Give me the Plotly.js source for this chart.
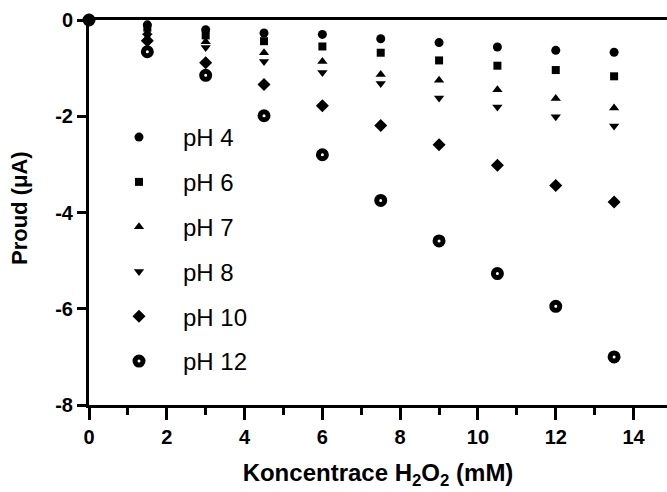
<!DOCTYPE html>
<html>
<head>
<meta charset="utf-8">
<script src="https://cdn.plot.ly/plotly-3.0.1.min.js"></script>
<style>html,body{margin:0;padding:0;background:#fff;}#chart{width:667px;height:492px;}</style>
</head>
<body>
<div id="chart"></div>
<script>
var concentration = [0, 1.5, 3, 4.5, 6, 7.5, 9, 10.5, 12, 13.5];
var pH4  = [0, -0.10, -0.20, -0.27, -0.30, -0.39, -0.47, -0.56, -0.63, -0.67];
var pH6  = [0, -0.16, -0.32, -0.44, -0.55, -0.68, -0.84, -0.95, -1.04, -1.17];
var pH7  = [0, -0.26, -0.45, -0.68, -0.86, -1.13, -1.25, -1.45, -1.63, -1.83];
var pH8  = [0, -0.33, -0.57, -0.86, -1.09, -1.32, -1.62, -1.81, -2.01, -2.20];
var pH10 = [0, -0.43, -0.89, -1.34, -1.78, -2.19, -2.59, -3.02, -3.44, -3.78];
var pH12 = [0, -0.66, -1.15, -1.99, -2.80, -3.75, -4.59, -5.27, -5.95, -7.00];
var seriesNames = ["pH 4", "pH 6", "pH 7", "pH 8", "pH 10", "pH 12"];
var xTicks = [0, 2, 4, 6, 8, 10, 12, 14];
var yTicks = [-8, -6, -4, -2, 0];
var xTitle = "Koncentrace H<sub>2</sub>O<sub>2</sub> (mM)";
var yTitle = "Proud (μA)";

var seriesData = [pH4, pH6, pH7, pH8, pH10, pH12];
var markers = [
  {symbol: "circle", size: 9, color: "#000"},
  {symbol: "square", size: 8, color: "#000"},
  {symbol: "triangle-up", size: 9, color: "#000"},
  {symbol: "triangle-down", size: 9, color: "#000"},
  {symbol: "diamond", size: 10, color: "#000"},
  {symbol: "circle-open", size: 8, color: "#000", line: {color: "#000", width: 5}}
];

var traces = seriesData.map(function (ys, i) {
  return {
    x: concentration, y: ys, name: seriesNames[i],
    type: "scatter", mode: "markers",
    marker: markers[i], cliponaxis: false,
    legendgroup: "g" + i
  };
});

var W = 667, H = 492;
var mL = 89, mR = 0, mT = 20, mB = 87;
var plotW = W - mL - mR, plotH = H - mT - mB;
var fontFam = "Liberation Sans, Arial, sans-serif";
var layout = {
  width: W, height: H,
  margin: {l: mL, r: mR, t: mT, b: mB, autoexpand: false},
  paper_bgcolor: "#fff", plot_bgcolor: "#fff",
  showlegend: true,
  legend: {
    xref: "container", yref: "container",
    x: 95 / W, y: 1 - 115 / H, xanchor: "left", yanchor: "top",
    font: {family: fontFam, size: 24, color: "#000"},
    itemwidth: 78, tracegroupgap: 10.6, traceorder: "grouped",
    maxheight: 400,
    bgcolor: "rgba(0,0,0,0)", borderwidth: 0
  },
  xaxis: {
    range: [0, 14.86], tickvals: xTicks, ticktext: xTicks.map(String),
    showgrid: false, zeroline: false,
    showline: true, linewidth: 3, linecolor: "#000", mirror: true,
    ticks: "outside", ticklen: 12, tickwidth: 3, tickcolor: "#000",
    minor: {dtick: 1, tick0: 0, ticks: "outside", ticklen: 7, tickwidth: 3, tickcolor: "#000", showgrid: false},
    tickfont: {family: fontFam, size: 20, color: "#000", weight: "bold"},
    title: {text: xTitle, standoff: 18,
            font: {family: fontFam, size: 24, color: "#000", weight: "bold"}}
  },
  yaxis: {
    range: [-8, 0], tickvals: yTicks, ticktext: yTicks.map(String),
    showgrid: false, zeroline: false,
    showline: true, linewidth: 3, linecolor: "#000",
    ticks: "outside", ticklen: 9, tickwidth: 3, tickcolor: "#000",
    tickfont: {family: fontFam, size: 20, color: "#000", weight: "bold"}
  },
  annotations: [{
    text: yTitle, textangle: -90, showarrow: false,
    xref: "paper", yref: "paper",
    x: (20 - mL) / plotW, y: 1 - (208 - mT) / plotH,
    xanchor: "center", yanchor: "middle",
    font: {family: fontFam, size: 22, color: "#000", weight: "bold"}
  }]
};

Plotly.newPlot("chart", traces, layout, {displayModeBar: false, staticPlot: true});
</script>
</body>
</html>
